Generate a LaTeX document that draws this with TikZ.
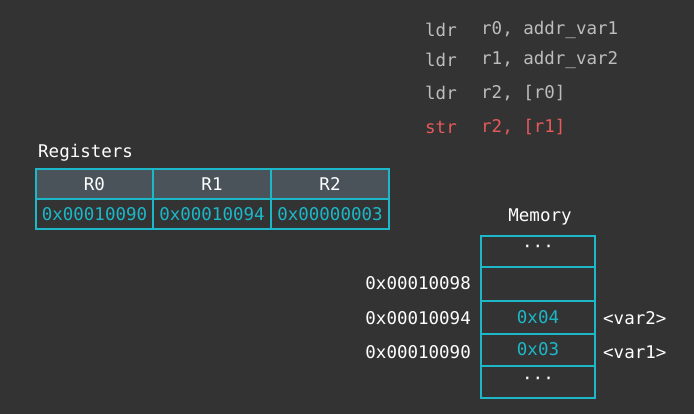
\documentclass[tikz,border=0pt]{standalone}
\usepackage{fontspec}
\setmonofont{DejaVu Sans Mono}
\definecolor{bgdark}{HTML}{333333}
\definecolor{cyanline}{HTML}{1CB8C9}
\definecolor{headfill}{HTML}{4A525A}
\definecolor{codegray}{HTML}{BDBDBD}
\definecolor{codered}{HTML}{E8595A}
\tikzset{
    txt/.style={text=white, font=\ttfamily\fontsize{17.5}{20}\selectfont, inner sep=0pt},
    cell/.style={draw=cyanline, line width=1.6pt},
    val/.style={txt, text=cyanline}
}
\begin{document}
\begin{tikzpicture}[x=1pt, y=-1pt]
    \fill[bgdark] (0,0) rectangle (694,414);
    \useasboundingbox (0,0) rectangle (694,414);

    % Code
    \foreach \y/\op/\args in {30/ldr/{r0, addr\_var1}, 60/ldr/{r1, addr\_var2}, 93/ldr/{r2, [r0]}} {
        \node[txt, text=codegray, anchor=west] at (425, \y) {\op};
        \node[txt, text=codegray, anchor=west] at (481, \y) {\args};
    }
    \node[txt, text=codered, anchor=west] (strop) at (425, 127) {str};
    \node[txt, text=codered, anchor=west] (strargs) at (481, 127) {r2, [r1]};

    % Registers
    \node[txt, anchor=west] (reglabel) at (38, 153) {Registers};
    \fill[headfill] (36, 169) rectangle (389, 199);
    \draw[cell] (36, 169) rectangle (389, 229);
    \draw[cell] (36, 199) -- (389, 199);
    \draw[cell] (153, 169) -- (153, 229);
    \draw[cell] (271, 169) -- (271, 229);
    \node[txt] (r0) at (94.5, 184) {R0};
    \node[txt] (r1) at (212, 184) {R1};
    \node[txt] (r2) at (330, 184) {R2};
    \node[val] (v0) at (94.5, 214) {0x00010090};
    \node[val] (v1) at (212, 214) {0x00010094};
    \node[val] (v2) at (330, 214) {0x00000003};

    % Memory
    \node[txt] (memlabel) at (540, 217) {Memory};
    \draw[cell] (481, 236) rectangle (595, 398);
    \foreach \y in {267, 301, 334, 366}
        \draw[cell] (481, \y) -- (595, \y);
    \node[txt] (dtop) at (538, 249) {···};
    \node[txt] (dbot) at (538, 381) {···};
    \node[val] (m4) at (538, 317) {0x04};
    \node[val] (m3) at (538, 349) {0x03};
    \node[txt, anchor=east] (a98) at (471, 283) {0x00010098};
    \node[txt, anchor=east] (a94) at (471, 318) {0x00010094};
    \node[txt, anchor=east] (a90) at (471, 352) {0x00010090};
    \node[txt, anchor=west] (var2) at (603, 318) {<var2>};
    \node[txt, anchor=west] (var1) at (603, 352) {<var1>};
\end{tikzpicture}
\end{document}
